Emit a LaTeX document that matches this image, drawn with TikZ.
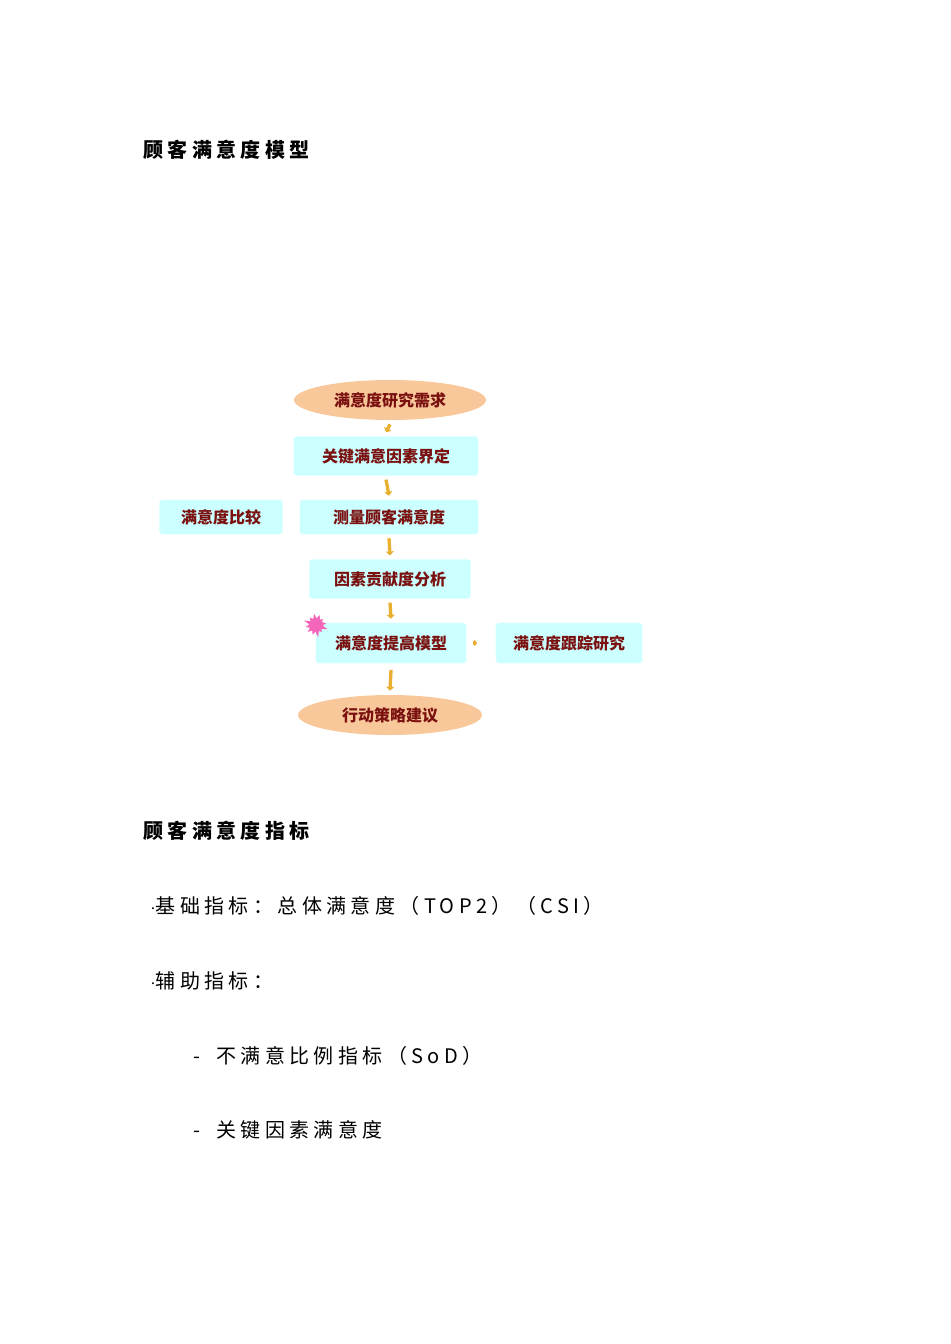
\documentclass[tikz,border=0pt]{standalone}
\usepackage{fontspec}
\setmainfont{Liberation Serif}
\newfontfamily\cjk{Noto Sans CJK SC}
\newfontfamily\cjks[LetterSpace=22]{Noto Sans CJK SC}
\usetikzlibrary{shapes.geometric,shapes.symbols,arrows.meta}
\definecolor{boxc}{HTML}{CCFFFF}
\definecolor{ellc}{HTML}{F9C89A}
\definecolor{txtc}{HTML}{7A1010}
\definecolor{arr}{HTML}{E8B030}
\begin{document}
\begin{tikzpicture}[x=0.75pt,y=-0.75pt,
  bx/.style={fill=boxc,draw=boxc!70!white,rounded corners=2pt,inner sep=0pt,text=txtc,font=\cjk\bfseries\fontsize{12}{14}\selectfont},
  el/.style={ellipse,fill=ellc,inner sep=0pt,text=txtc,font=\cjk\bfseries\fontsize{12}{14}\selectfont},
  ar/.style={draw=arr,line width=2.5pt,-{Triangle[length=3pt,width=6pt]}},
  ttl/.style={anchor=west,inner sep=0pt,font=\cjks\bfseries\fontsize{15}{18}\selectfont},
  bl/.style={anchor=west,inner sep=0pt,font=\cjks\fontsize{15}{18}\selectfont}]
\useasboundingbox (0,0) rectangle (950,1344);
\node[ttl] (t1) at (143,150) {顾客满意度模型};
\node[el,minimum width=144pt,minimum height=30pt] (e1) at (390,400) {满意度研究需求};
\node[bx,minimum width=138pt,minimum height=29pt] (b2) at (386,456) {关键满意因素界定};
\node[bx,minimum width=92pt,minimum height=25.5pt] (bl) at (221,517) {满意度比较};
\node[bx,minimum width=133.5pt,minimum height=25.5pt] (b3) at (389,517) {测量顾客满意度};
\node[bx,minimum width=121pt,minimum height=29pt] (b4) at (390,579) {因素贡献度分析};
\node[bx,minimum width=112.5pt,minimum height=30pt] (b5) at (391,643) {满意度提高模型};
\node[bx,minimum width=109.5pt,minimum height=30pt] (br) at (569,643) {满意度跟踪研究};
\node[el,minimum width=138pt,minimum height=30pt] (e2) at (390,715) {行动策略建议};
\node[starburst,starburst points=12,starburst point height=5pt,fill=magenta!60!white,draw=none,minimum size=20pt,inner sep=0pt,rotate=10] (st) at (316,625) {};
\draw[ar] ([yshift=-3pt]e1.south) -- ([yshift=3pt]b2.north);
\draw[ar] ([yshift=-3pt]b2.south) -- ([yshift=3pt]b3.north);
\draw[ar] ([yshift=-3pt]b3.south) -- ([yshift=3pt]b4.north);
\draw[ar] ([yshift=-3pt]b4.south) -- ([yshift=3pt]b5.north);
\draw[ar] ([yshift=-5pt]b5.south) -- ([yshift=3pt]e2.north);
\draw[draw=arr,line width=2.5pt,-{Triangle[length=2pt,width=5pt]}] ([xshift=5pt]b5.east) -- ([xshift=-14pt]br.west);
\node[ttl] (t2) at (143,831) {顾客满意度指标};
\node[bl] (l1) at (150,906) {$\cdot$基础指标：总体满意度（TOP2）（CSI）};
\node[bl] (l2) at (150,981) {$\cdot$辅助指标：};
\node[bl] (l3) at (193,1056) {-\hspace{12pt}不满意比例指标（SoD）};
\node[bl] (l4) at (193,1130) {-\hspace{12pt}关键因素满意度};
\end{tikzpicture}
\end{document}
